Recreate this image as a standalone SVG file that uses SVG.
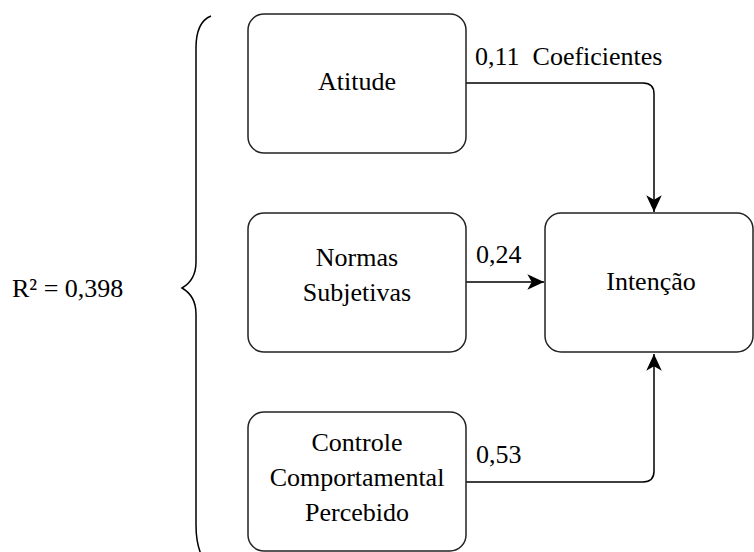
<svg xmlns="http://www.w3.org/2000/svg" width="754" height="552" viewBox="0 0 754 552">
<defs>
<style>
.box{fill:#fff;stroke:#222;stroke-width:1.5}
.edge{fill:none;stroke:#000;stroke-width:1.5}
.t{font-family:'Liberation Serif','Times New Roman',Times,serif;font-size:26px;fill:#000}
.c{text-anchor:middle}
</style>
<marker id="arr" markerUnits="userSpaceOnUse" markerWidth="20" markerHeight="20" viewBox="-16 -8 18 16" refX="0" refY="0" orient="auto">
<path d="M0,0 L-15,-7 L-11,0 L-15,7 Z" fill="#000"/>
</marker>
</defs>
<rect width="754" height="552" fill="#fff"/>
<path class="edge" d="M211,16 Q196,22 196,48 L196,262 Q196,280 182,288 Q196,296 196,314 L196,525 Q196,548 205,562"/>
<text class="t" x="12" y="297">R² = 0,398</text>
<g id="connectors">
<path class="edge" d="M466,83 L643,83 Q654,83 654,94 L654,212" marker-end="url(#arr)"/>
<path class="edge" d="M466,282 L544,282" marker-end="url(#arr)"/>
<path class="edge" d="M466,482 L643,482 Q654,482 654,471 L654,354" marker-end="url(#arr)"/>
<text class="t" x="475" y="65" xml:space="preserve">0,11  Coeficientes</text>
<text class="t" x="476" y="263">0,24</text>
<text class="t" x="476" y="463">0,53</text>
</g>
<g id="atitude">
<rect class="box" x="248" y="14" width="218" height="139" rx="16"/>
<text class="t c" x="357" y="90">Atitude</text>
</g>
<g id="normas">
<rect class="box" x="248" y="213" width="218" height="139" rx="16"/>
<text class="t c" x="357" y="266">Normas</text>
<text class="t c" x="357" y="301">Subjetivas</text>
</g>
<g id="controle">
<rect class="box" x="248" y="412" width="218" height="139" rx="16"/>
<text class="t c" x="357" y="451">Controle</text>
<text class="t c" x="357" y="486">Comportamental</text>
<text class="t c" x="357" y="521">Percebido</text>
</g>
<g id="intencao">
<rect class="box" x="545" y="213" width="208" height="139" rx="16"/>
<text class="t c" x="651" y="290">Intenção</text>
</g>
</svg>
